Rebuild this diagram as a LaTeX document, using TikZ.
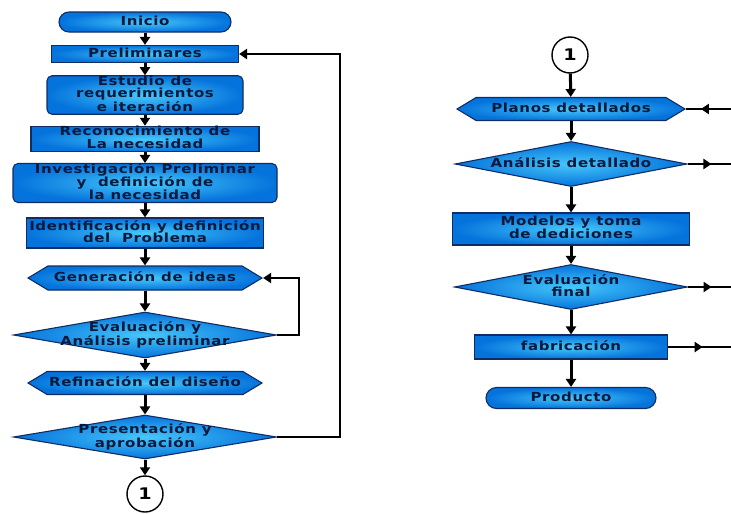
\documentclass[tikz,border=0pt]{standalone}
\usepackage{fontspec}
\usetikzlibrary{shapes.geometric,shapes.misc,shapes.symbols,arrows.meta,decorations.markings}
\newfontfamily\boxfont[FakeStretch=1.2,LetterSpace=5]{DejaVu Sans}
\definecolor{boxblue}{RGB}{5,115,220}
\definecolor{boxcyan}{RGB}{70,200,250}
\definecolor{boxline}{RGB}{15,45,100}
\definecolor{boxtext}{RGB}{10,25,60}
\newcommand{\ctext}[1]{\makebox[0pt]{\begin{tabular}{@{}c@{}}#1\end{tabular}}}
\tikzset{
  caja/.style={draw=boxline, line width=1.1pt, inner color=boxcyan, outer color=boxblue,
    inner sep=0pt, text=boxtext, font=\boxfont\bfseries\fontsize{12.5}{10.5}\selectfont},
  rect/.style={caja, rectangle},
  redondo/.style={caja, rectangle, rounded corners=5pt},
  extremo/.style={caja, rounded rectangle},
  rombo/.style={caja, diamond},
  hexa/.style={caja, signal, signal to=west and east, signal pointer angle=62},
  enlace/.style={circle, draw, line width=1.4pt, fill=white, minimum size=36pt, inner sep=0pt,
    font=\boxfont\bfseries\fontsize{16}{16}\selectfont},
  flecha/.style={line width=3pt, -{Triangle[width=10pt,length=8pt]}},
  linea/.style={line width=2.6pt},
  medio/.style={postaction={decorate}, decoration={markings,
    mark=at position #1 with {\arrow{Triangle[width=10pt,length=8pt]}}}}
}
\begin{document}
\begin{tikzpicture}[x=1pt, y=-1pt]
\useasboundingbox (0,0) rectangle (731,514);
% columna izquierda
\node[extremo, minimum width=172pt, minimum height=20pt] (inicio) at (145,22) {\ctext{Inicio}};
\node[rect, minimum width=187pt, minimum height=17pt] (prelim) at (145,54) {\ctext{Preliminares}};
\node[redondo, minimum width=196pt, minimum height=34pt] (estudio) at (145,95) {\ctext{Estudio de\\requerimientos\\e iteración}};
\node[rect, minimum width=228pt, minimum height=24pt] (recon) at (145,139) {\ctext{Reconocimiento de\\La necesidad}};
\node[redondo, minimum width=264pt, minimum height=33pt] (invest) at (145,183) {\ctext{Investigación Preliminar\\y~~definición de\\la necesidad}};
\node[rect, minimum width=237pt, minimum height=30pt] (ident) at (145,233) {\ctext{Identificación y definición\\del~~Problema}};
\node[hexa, minimum width=234pt, minimum height=24pt] (gener) at (145,278) {\ctext{Generación de ideas}};
\node[rombo, minimum width=263pt, minimum height=46pt] (evalp) at (145,335) {\ctext{Evaluación y\\Análisis preliminar}};
\node[hexa, minimum width=234pt, minimum height=23pt] (refin) at (145,383) {\ctext{Refinación del diseño}};
\node[rombo, minimum width=263pt, minimum height=44pt] (present) at (145,437) {\ctext{Presentación y\\aprobación}};
\node[enlace] (uno) at (145,494) {1};
\draw[flecha] (inicio) -- (prelim);
\draw[flecha] (prelim) -- (estudio);
\draw[flecha] (estudio) -- (recon);
\draw[flecha] (recon) -- (invest);
\draw[flecha] (invest) -- (ident);
\draw[flecha] (ident) -- (gener);
\draw[flecha] (gener) -- (evalp);
\draw[flecha] (evalp) -- (refin);
\draw[flecha] (refin) -- (present);
\draw[flecha] (present) -- (uno);
% retornos
\draw[linea, -{Triangle[width=10pt,length=8pt]}] (present.east) -- ++(63,0) |- (prelim.east);
\draw[linea, -{Triangle[width=10pt,length=8pt]}] (evalp.east) -- ++(22,0) |- (gener.east);
% columna derecha
\node[enlace] (dos) at (570,55) {1};
\node[hexa, minimum width=228pt, minimum height=23pt] (planos) at (571,109) {\ctext{Planos detallados}};
\node[rombo, minimum width=232pt, minimum height=45pt] (analisis) at (571,164) {\ctext{Análisis detallado}};
\node[rect, minimum width=237pt, minimum height=32pt] (modelos) at (571,229) {\ctext{Modelos y toma\\de dediciones}};
\node[rombo, minimum width=233pt, minimum height=45pt] (evalf) at (571,287) {\ctext{Evaluación\\final}};
\node[rect, minimum width=193pt, minimum height=24pt] (fabric) at (571,347) {\ctext{fabricación}};
\node[extremo, minimum width=170pt, minimum height=21pt] (producto) at (571,398) {\ctext{Producto}};
\draw[flecha] (dos) -- (planos);
\draw[flecha] (planos) -- (analisis);
\draw[flecha] (analisis) -- (modelos);
\draw[flecha] (modelos) -- (evalf);
\draw[flecha] (evalf) -- (fabric);
\draw[flecha] (fabric) -- (producto);
% salidas al borde
\coordinate (borde) at (731,0);
\draw[linea, medio=0.67] (planos.east -| borde) -- (planos.east);
\draw[linea, medio=0.55] (analisis.east) -- (analisis.east -| borde);
\draw[linea, medio=0.55] (evalf.east) -- (evalf.east -| borde);
\draw[linea, medio=0.55] (fabric.east) -- (fabric.east -| borde);
\end{tikzpicture}
\end{document}
